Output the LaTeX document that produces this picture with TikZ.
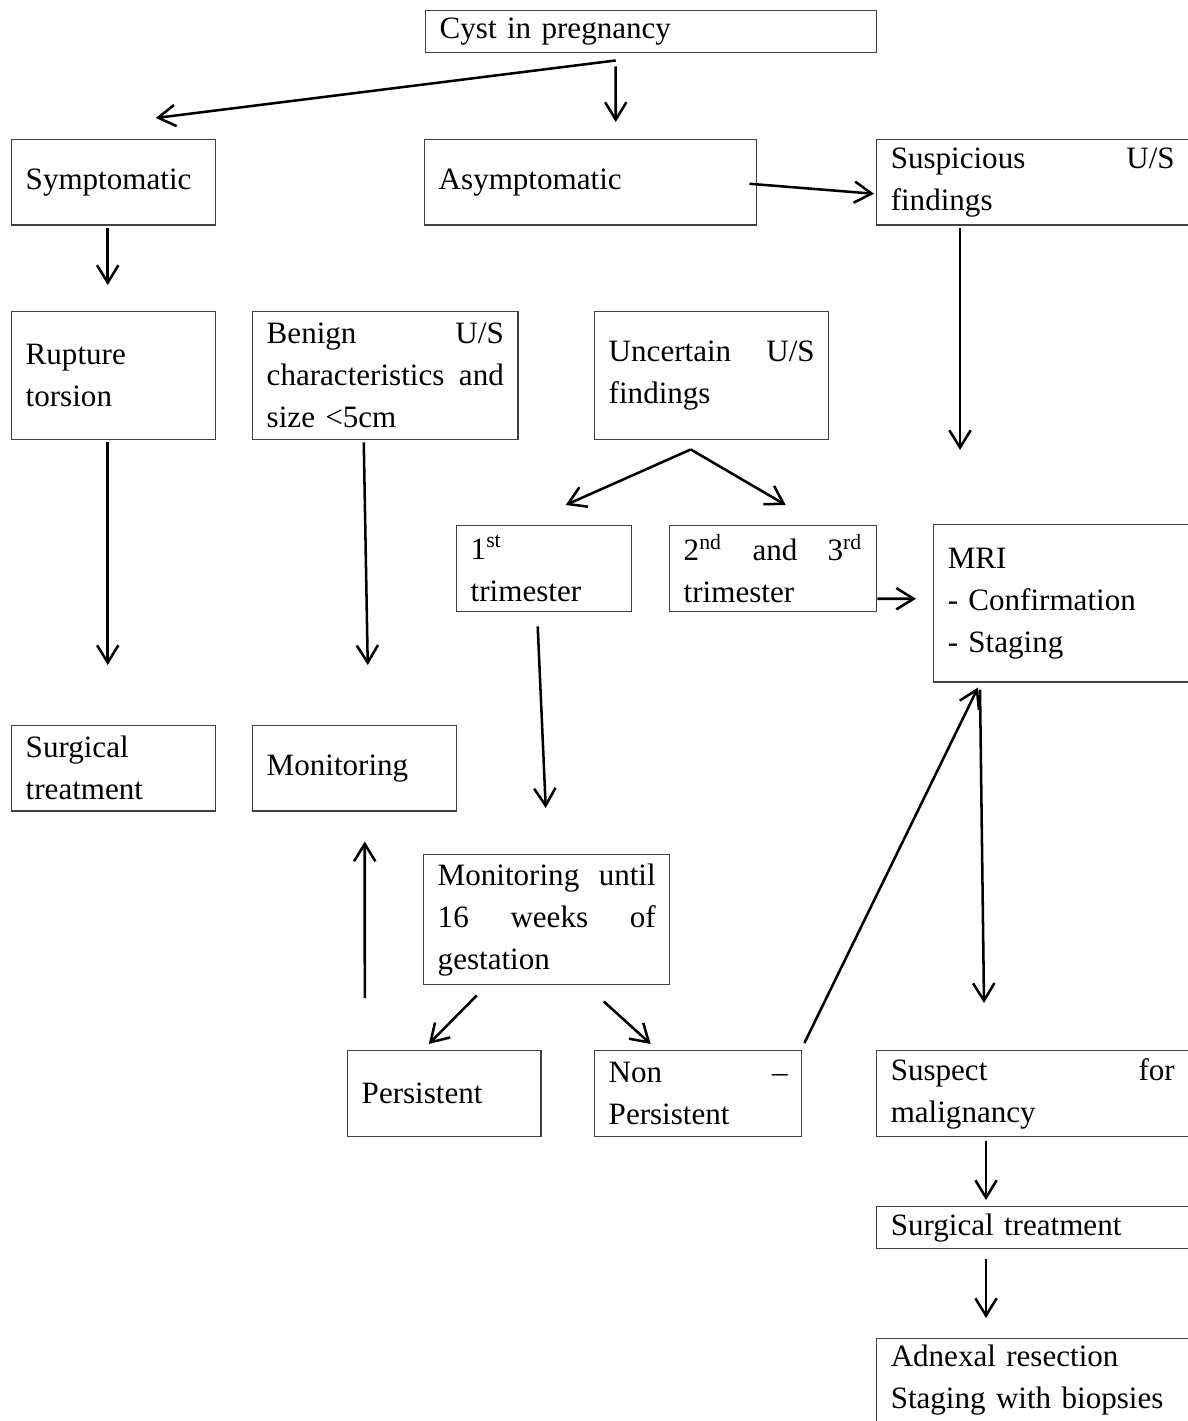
\documentclass[tikz,border=0pt]{standalone}
\usepackage{fontspec}
\setmainfont{Liberation Serif}
\usetikzlibrary{arrows.meta,calc}
\hyphenpenalty=10000
\exhyphenpenalty=10000
\tolerance=9999
\hbadness=10000

\tikzset{
  box/.style 2 args={draw=black!75, line width=0.55pt, anchor=north west,
    inner xsep=5.25pt, inner ysep=0pt, align=justify,
    text width=#1, minimum height=#2,
    font=\fontsize{11.65}{15.75}\selectfont},
  arr/.style={-{Straight Barb[length=6.5pt,width=8pt]}, line width=0.95pt}
}

\begin{document}
\begin{tikzpicture}[x=0.375pt,y=-0.375pt]
\useasboundingbox (0,0) rectangle (1187,1421);

% Top row
\node[box={158.6pt}{15.75pt}, align=left] (cyst) at (425,10) {Cyst in pregnancy};
\node[box={66pt}{31.9pt}, align=left] (symp) at (11,139) {Symptomatic};
\node[box={114pt}{31.9pt}, align=left] (asymp) at (424,139) {Asymptomatic};
\node[box={106.5pt}{31.9pt}] (susp) at (876,139) {Suspicious U/S findings};

% Second row
\node[box={66pt}{48pt}, align=left] (rupt) at (11,311) {Rupture\\torsion};
\node[box={88.9pt}{48pt}, align=left] (benign) at (252,311) {Benign\hfill U/S\\characteristics\hfill and\\size <5cm};
\node[box={77.25pt}{48pt}] (uncert) at (594,311) {Uncertain U/S findings};

% Trimesters and MRI
\node[box={55.1pt}{32.25pt}, align=left] (first) at (456,525) {1\textsuperscript{st}\\trimester};
\node[box={67.1pt}{32.25pt}] (second) at (669,525) {2\textsuperscript{nd} and 3\textsuperscript{rd} trimester};
\node[box={85.1pt}{58.9pt}, align=left] (mri) at (933,524) {MRI\\- Confirmation\\- Staging};

% Outcomes
\node[box={66pt}{31.9pt}, align=left] (surgl) at (11,725) {Surgical\\treatment};
\node[box={66pt}{31.9pt}, align=left] (monit) at (252,725) {Monitoring};
\node[box={81.75pt}{48.75pt}] (monsixteen) at (423,854) {Monitoring until 16 weeks of gestation};
\node[box={61.9pt}{32.25pt}, align=left] (pers) at (347,1050) {Persistent};
\node[box={67.1pt}{32.25pt}] (nonpers) at (594,1050) {Non -- Persistent};
\node[box={106.5pt}{32.25pt}] (suspm) at (876,1050) {Suspect for malignancy};
\node[box={106.5pt}{15.75pt}, align=left] (surgr) at (876,1206) {Surgical treatment};
\node[box={106.5pt}{31.1pt}, align=left] (adnex) at (876,1338) {Adnexal resection\\Staging with biopsies};

% Arrows from the top
\draw[arr] ($(cyst.south)+(-35.5,7)$) -- ($(symp.north)+(42,-21)$);
\draw[arr] ($(cyst.south)+(-35.5,13)$) -- ($(asymp.north)+(25,-17)$);
\draw[arr] ($(asymp.east)+(-8,1.5)$) -- ($(susp.west)+(-2,11.5)$);

% Left branch
\draw[arr] ($(symp.south)+(-6,2)$) -- ($(rupt.north)+(-6,-26)$);
\draw[arr] ($(rupt.south)+(-6,2)$) -- ($(surgl.north)+(-6,-60)$);
\draw[arr] ($(benign.south)+(-21.5,2)$) -- ($(monit.north)+(13,-60)$);

% Uncertain findings
\draw[arr] ($(uncert.south)+(-21,9)$) -- ($(first.north)+(21.5,-20)$);
\draw[arr] ($(uncert.south)+(-21,9)$) -- ($(second.north)+(12.5,-20)$);
\draw[arr] ($(second.east)+(0,30)$) -- ($(mri.west)+(-17,-4.5)$);
\draw[arr] ($(first.south)+(-6.5,14)$) -- ($(monsixteen.north)+(-1,-46)$);
\draw[arr] ($(monsixteen.south)+(-70,10)$) -- ($(pers.north)+(-15.5,-6)$);
\draw[arr] ($(monsixteen.south)+(57,16)$) -- ($(nonpers.north)+(-47.5,-6)$);
\draw[arr] ($(pers.north)+(-79.5,-52)$) -- ($(monit.south)+(10,30)$);
\draw[arr] ($(nonpers.north east)+(2,-7)$) -- ($(mri.south west)+(45,5)$);

% Right branch
\draw[arr] ($(susp.south west)+(84,2)$) -- ($(mri.north west)+(27,-74)$);
\draw[arr] ($(mri.south west)+(47,7)$) -- ($(suspm.north west)+(108,-47)$);
\draw[arr] ($(suspm.south west)+(110,4)$) -- ($(surgr.north west)+(110,-6)$);
\draw[arr] ($(surgr.south west)+(110,10)$) -- ($(adnex.north west)+(110,-20)$);
\end{tikzpicture}
\end{document}
